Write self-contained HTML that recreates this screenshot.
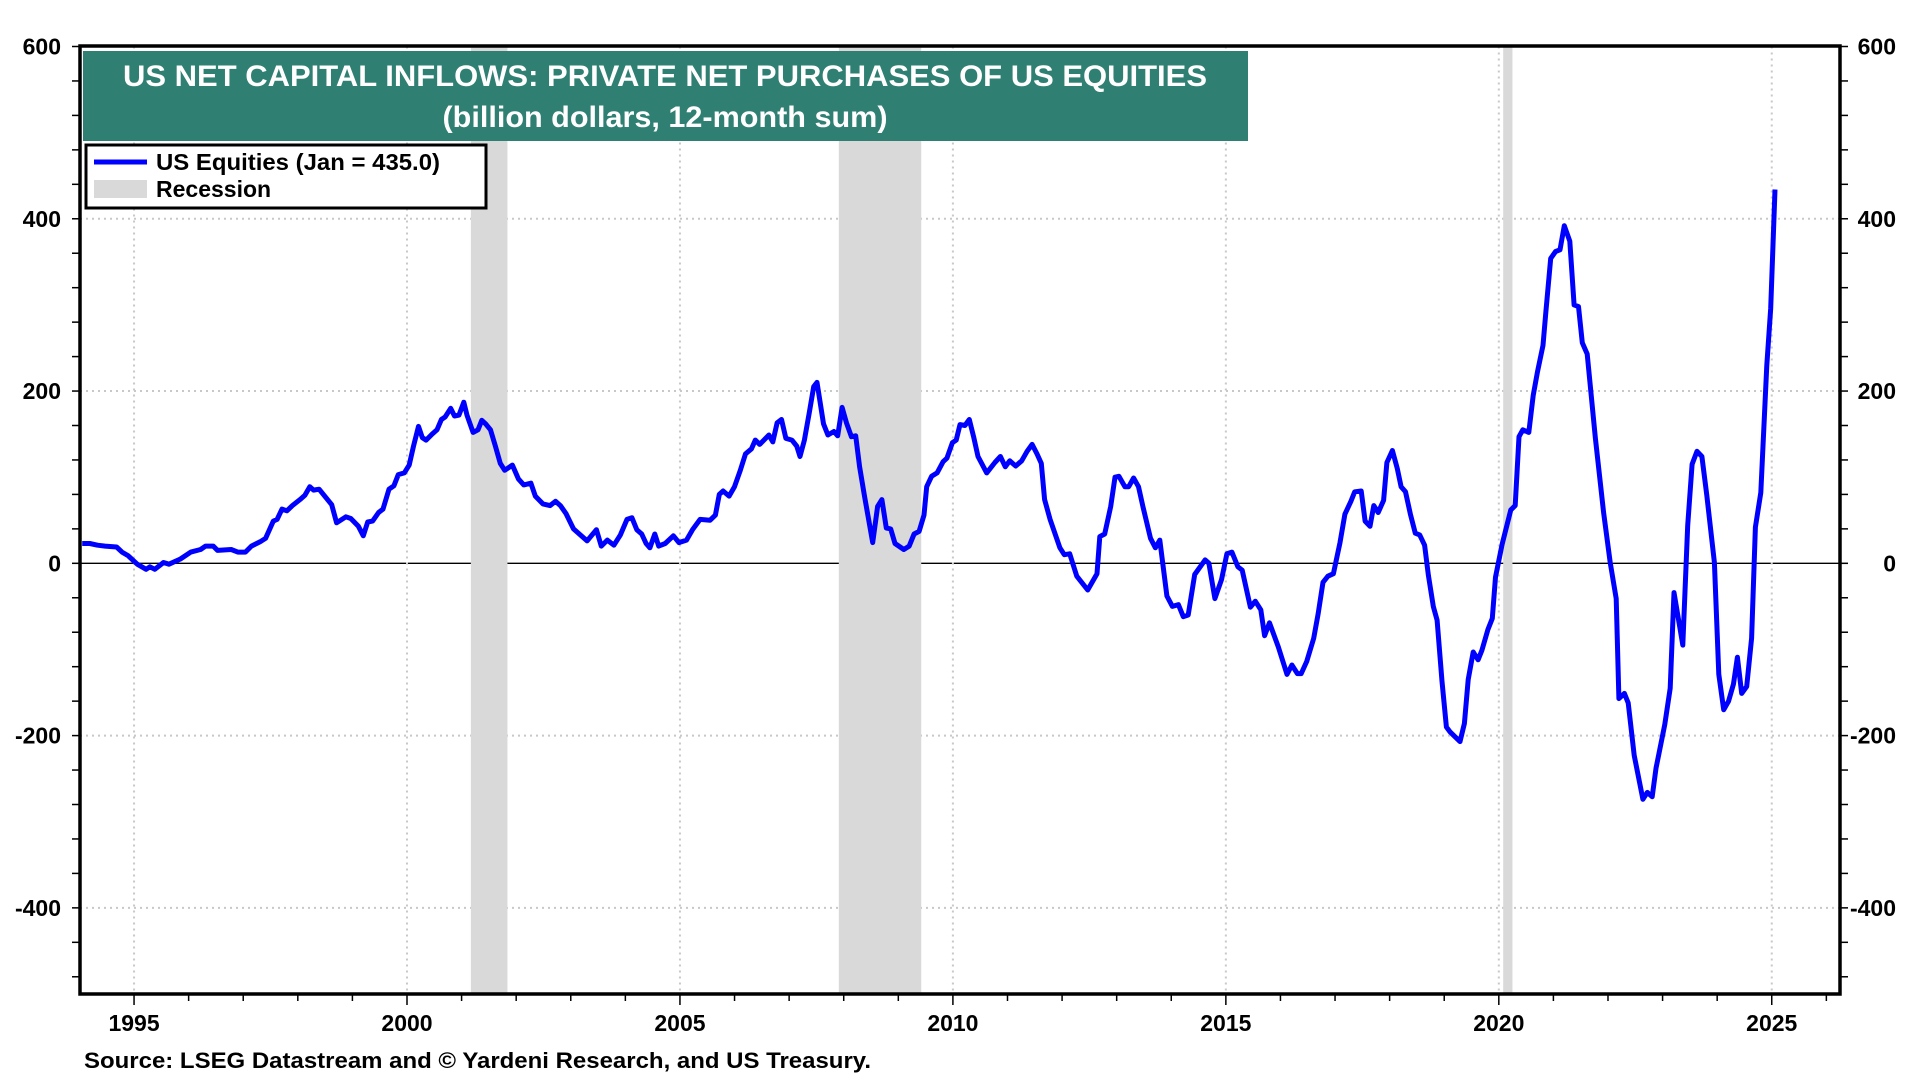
<!DOCTYPE html>
<html>
<head>
<meta charset="utf-8">
<style>
  html,body{margin:0;padding:0;background:#fff;}
  body{width:1920px;height:1080px;overflow:hidden;position:relative;font-family:"Liberation Sans",Arial,sans-serif;}
  svg{position:absolute;left:0;top:0;}
</style>
</head>
<body>
<svg id="chart" width="1920" height="1080" viewBox="0 0 1920 1080" font-family="Liberation Sans, Arial, sans-serif">
  <g id="grid"></g>
  <g id="recessions"></g>
  <g id="axes"></g>
  <g id="series"></g>
  <rect x="80" y="46" width="1760" height="948" fill="none" stroke="#000" stroke-width="3.5"/>
  <g>
    <rect x="83" y="51" width="1165" height="90" fill="#2f7f73"/>
    <text x="665" y="86" text-anchor="middle" fill="#fff" font-size="30" font-weight="bold" textLength="1084" lengthAdjust="spacingAndGlyphs">US NET CAPITAL INFLOWS: PRIVATE NET PURCHASES OF US EQUITIES</text>
    <text x="665" y="127" text-anchor="middle" fill="#fff" font-size="30" font-weight="bold" textLength="445" lengthAdjust="spacingAndGlyphs">(billion dollars, 12-month sum)</text>
  </g>
  <g>
    <rect x="86" y="145" width="400" height="63" fill="#fff" stroke="#000" stroke-width="3"/>
    <line x1="94" y1="162" x2="147" y2="162" stroke="#0000ff" stroke-width="5"/>
    <text x="156" y="170" font-size="23" font-weight="bold" textLength="284" lengthAdjust="spacingAndGlyphs">US Equities (Jan = 435.0)</text>
    <rect x="94" y="180" width="53" height="18" fill="#d9d9d9"/>
    <text x="156" y="197" font-size="23" font-weight="bold">Recession</text>
  </g>
  <text x="84" y="1068" font-size="22" font-weight="bold" textLength="787" lengthAdjust="spacingAndGlyphs">Source: LSEG Datastream and © Yardeni Research, and US Treasury.</text>
</svg>
<script>
const dates = [1994.05,1994.19,1994.33,1994.47,1994.68,1994.78,1994.89,1995.06,1995.22,1995.29,1995.38,1995.54,1995.64,1995.85,1996.04,1996.22,1996.31,1996.45,1996.53,1996.78,1996.9,1997.04,1997.15,1997.31,1997.41,1997.55,1997.62,1997.71,1997.8,1997.9,1998.04,1998.13,1998.22,1998.29,1998.39,1998.62,1998.71,1998.88,1998.97,1999.11,1999.2,1999.28,1999.37,1999.48,1999.56,1999.67,1999.76,1999.84,1999.95,2000.04,2000.12,2000.21,2000.28,2000.35,2000.46,2000.55,2000.63,2000.7,2000.8,2000.87,2000.95,2001.04,2001.1,2001.21,2001.3,2001.37,2001.44,2001.53,2001.62,2001.71,2001.79,2001.93,2002.04,2002.14,2002.27,2002.35,2002.49,2002.62,2002.72,2002.81,2002.91,2003.05,2003.3,2003.47,2003.56,2003.67,2003.79,2003.91,2004.03,2004.12,2004.21,2004.3,2004.38,2004.45,2004.54,2004.61,2004.73,2004.88,2004.98,2005.12,2005.23,2005.37,2005.55,2005.65,2005.72,2005.79,2005.9,2006.0,2006.1,2006.2,2006.31,2006.38,2006.46,2006.63,2006.7,2006.78,2006.86,2006.94,2007.05,2007.14,2007.2,2007.28,2007.37,2007.45,2007.51,2007.63,2007.71,2007.82,2007.89,2007.97,2008.05,2008.14,2008.22,2008.29,2008.38,2008.53,2008.62,2008.7,2008.78,2008.86,2008.94,2009.1,2009.2,2009.29,2009.38,2009.47,2009.52,2009.61,2009.71,2009.82,2009.89,2009.99,2010.06,2010.13,2010.22,2010.3,2010.38,2010.46,2010.62,2010.77,2010.87,2010.96,2011.04,2011.15,2011.26,2011.36,2011.45,2011.54,2011.62,2011.68,2011.78,2011.96,2012.04,2012.14,2012.27,2012.47,2012.64,2012.69,2012.78,2012.89,2012.97,2013.04,2013.15,2013.22,2013.31,2013.4,2013.48,2013.62,2013.71,2013.79,2013.92,2014.02,2014.13,2014.22,2014.31,2014.43,2014.62,2014.69,2014.8,2014.92,2015.02,2015.11,2015.22,2015.3,2015.45,2015.54,2015.64,2015.71,2015.8,2015.96,2016.12,2016.21,2016.31,2016.38,2016.48,2016.61,2016.69,2016.78,2016.87,2016.97,2017.09,2017.18,2017.29,2017.36,2017.48,2017.55,2017.64,2017.71,2017.79,2017.89,2017.95,2018.05,2018.14,2018.21,2018.29,2018.38,2018.47,2018.55,2018.64,2018.71,2018.8,2018.87,2018.96,2019.04,2019.11,2019.29,2019.37,2019.44,2019.53,2019.62,2019.69,2019.8,2019.88,2019.94,2020.06,2020.22,2020.3,2020.37,2020.44,2020.55,2020.63,2020.71,2020.81,2020.86,2020.95,2021.04,2021.12,2021.2,2021.3,2021.38,2021.46,2021.53,2021.62,2021.77,2021.92,2022.04,2022.15,2022.2,2022.3,2022.37,2022.48,2022.64,2022.72,2022.81,2022.88,2023.04,2023.14,2023.21,2023.37,2023.46,2023.54,2023.63,2023.72,2023.81,2023.95,2024.03,2024.12,2024.21,2024.3,2024.37,2024.45,2024.54,2024.63,2024.7,2024.8,2024.91,2024.98,2025.06];
const values = [23,23,21,20,19,13,9,-1,-7,-4,-7,1,-1,5,13,16,20,20,15,16,13,13,20,25,29,49,51,63,61,67,74,79,89,85,86,68,47,54,52,43,32,48,49,59,63,86,90,103,105,114,136,159,146,143,150,155,167,170,180,171,172,187,172,152,155,166,162,155,136,116,108,114,98,91,93,78,69,67,72,67,58,40,26,39,20,27,21,33,51,53,39,34,23,18,34,20,23,32,24,27,39,51,50,56,80,84,78,89,107,127,133,143,138,149,141,163,167,145,143,136,124,143,175,205,210,162,149,153,148,181,163,147,148,112,78,24,66,74,41,40,23,16,20,34,37,56,89,101,105,118,122,140,143,161,160,167,147,124,105,117,124,112,119,113,119,130,138,127,116,74,51,18,10,11,-15,-31,-12,31,34,66,100,101,89,89,99,89,66,29,18,27,-38,-50,-48,-62,-60,-13,4,0,-41,-19,11,13,-4,-8,-51,-44,-54,-84,-69,-97,-129,-118,-128,-128,-114,-87,-59,-22,-15,-12,24,57,72,83,84,49,43,67,59,73,117,131,110,89,83,57,35,33,21,-14,-50,-66,-137,-190,-196,-207,-186,-135,-103,-112,-101,-77,-64,-16,22,62,67,147,155,152,195,223,253,291,354,362,364,392,374,300,298,256,243,145,59,1,-41,-157,-151,-162,-223,-274,-266,-271,-238,-187,-145,-34,-95,44,115,130,124,79,1,-129,-170,-160,-140,-109,-151,-143,-87,42,82,230,296,434];
const recessionStarts = [2001.17, 2007.91, 2020.08];
const recessionEnds = [2001.84, 2009.42, 2020.25];
const yTickLabels = [600, 400, 200, 0, -200, -400];
const xTickLabels = [1995, 2000, 2005, 2010, 2015, 2020, 2025];

const NS = 'http://www.w3.org/2000/svg';
const X0 = 80, X1 = 1840, Y0 = 46.5, Y1 = 994;
const yearMin = 1994.01, yearMax = 2026.25, vMin = -500, vMax = 600;
function xs(t){ return X0 + (t - yearMin) / (yearMax - yearMin) * (X1 - X0); }
function ys(v){ return Y0 + (vMax - v) / (vMax - vMin) * (Y1 - Y0); }
function mk(tag, attrs, parent){
  const el = document.createElementNS(NS, tag);
  for (const k in attrs) el.setAttribute(k, attrs[k]);
  parent.appendChild(el);
  return el;
}
const grid = document.getElementById('grid');
const axes = document.getElementById('axes');
const rec = document.getElementById('recessions');
const series = document.getElementById('series');

for (let i = 0; i < recessionStarts.length; i++) {
  const r = mk('rect', {x: xs(recessionStarts[i]), y: Y0, width: xs(recessionEnds[i]) - xs(recessionStarts[i]), height: Y1 - Y0, fill: '#d9d9d9'}, rec);
  
  
}

yTickLabels.forEach(v => {
  const y = ys(v);
  if (v !== 0 && v !== 600) {
    const g = mk('line', {x1: X0, x2: X1, y1: y, y2: y, stroke: '#c8c8c8', 'stroke-width': 2, 'stroke-dasharray': '2,4'}, grid);
    
    
  }
  const tl = mk('text', {x: 61, y: y + 8, 'text-anchor': 'end', 'font-size': 23, 'font-weight': 'bold'}, axes);
  tl.textContent = v;
  
  
  const tr = mk('text', {x: 1896, y: y + 8, 'text-anchor': 'end', 'font-size': 23, 'font-weight': 'bold'}, axes);
  tr.textContent = v;
  
  
});
for (let v = -480; v <= 600; v += 40) {
  const y = ys(v);
  mk('line', {x1: X0 - 8, x2: X0, y1: y, y2: y, stroke: '#000', 'stroke-width': 1.5}, axes);
  mk('line', {x1: X1, x2: X1 + 8, y1: y, y2: y, stroke: '#000', 'stroke-width': 1.5}, axes);
}
const z = mk('line', {x1: X0, x2: X1, y1: ys(0), y2: ys(0), stroke: '#000', 'stroke-width': 1.3}, grid);



xTickLabels.forEach(t => {
  const x = xs(t);
  const g = mk('line', {x1: x, x2: x, y1: Y0, y2: Y1, stroke: '#c8c8c8', 'stroke-width': 2, 'stroke-dasharray': '2,4'}, grid);
  
  
  const l = mk('text', {x: x, y: 1031, 'text-anchor': 'middle', 'font-size': 23, 'font-weight': 'bold'}, axes);
  l.textContent = t;
  
  
});
for (let t = 1995; t <= 2026; t++) {
  const x = xs(t);
  mk('line', {x1: x, x2: x, y1: Y1, y2: Y1 + (t % 5 === 0 ? 11 : 7), stroke: '#000', 'stroke-width': 1.5}, axes);
}

let d = '';
for (let i = 0; i < dates.length; i++) {
  d += (i ? 'L' : 'M') + xs(dates[i]).toFixed(1) + ',' + ys(values[i]).toFixed(1);
}
const path = mk('path', {d: d, fill: 'none', stroke: '#0000ff', 'stroke-width': 5, 'stroke-linejoin': 'round'}, series);


</script>
</body>
</html>
